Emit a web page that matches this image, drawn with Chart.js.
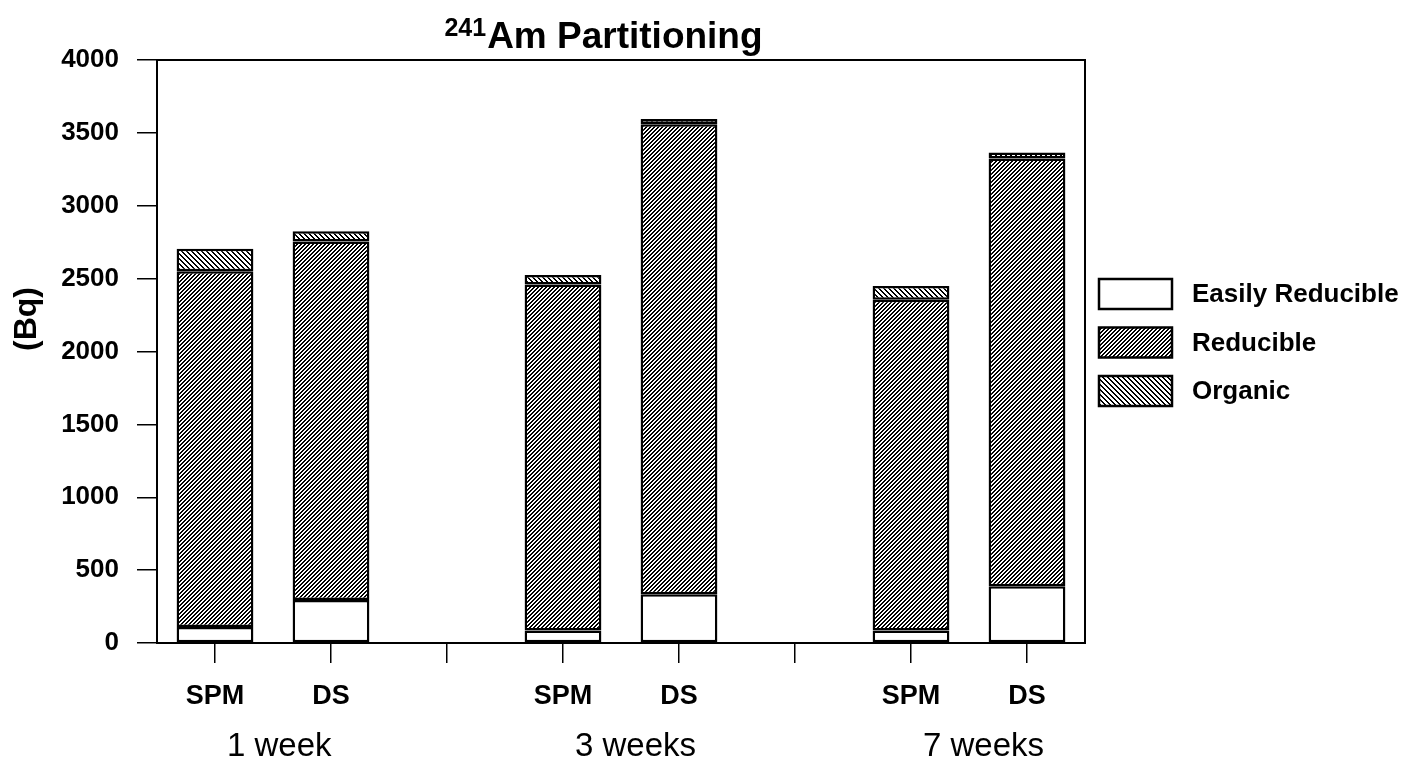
<!DOCTYPE html>
<html>
<head>
<meta charset="utf-8">
<title>241Am Partitioning</title>
<script src="https://cdn.jsdelivr.net/npm/chart.js@4/dist/chart.umd.min.js"></script>
<style>
  html, body { margin: 0; padding: 0; background: #fff; }
  #wrap { width: 1414px; height: 762px; position: relative; }
</style>
</head>
<body>
<div id="wrap"><canvas id="c" width="1414" height="762"></canvas></div>
<script>
// Fractions per sample (Bq); empty slots separate the sampling times
const categories = ['SPM', 'DS', '', 'SPM', 'DS', '', 'SPM', 'DS'];
const groupLabels = ['1 week', '3 weeks', '7 weeks'];
const groupStartIndex = [0, 3, 6];
const easilyReducible = [110, 295, null, 85, 335, null, 85, 390];
const reducible = [2440, 2460, null, 2375, 3225, null, 2270, 2935];
const organic = [155, 70, null, 65, 35, null, 95, 40];
const seriesNames = ['Easily Reducible', 'Reducible', 'Organic'];
const yTickValues = [0, 500, 1000, 1500, 2000, 2500, 3000, 3500, 4000];

const FONT = 'Arial, "Liberation Sans", Helvetica, sans-serif';
const canvas = document.getElementById('c');
const ctx = canvas.getContext('2d');

// crisp pixel hatch: dir > 0 gives "/" lines, dir < 0 gives "\" lines
function hatch(period, thick, dir) {
  const t = document.createElement('canvas');
  t.width = period; t.height = period;
  const g = t.getContext('2d');
  const img = g.createImageData(period, period);
  for (let y = 0; y < period; y++) {
    for (let x = 0; x < period; x++) {
      const k = dir > 0 ? (x + y) % period : ((x - y) % period + period) % period;
      const v = k < thick ? 0 : 255;
      const p = (y * period + x) * 4;
      img.data[p] = v; img.data[p + 1] = v; img.data[p + 2] = v; img.data[p + 3] = 255;
    }
  }
  g.putImageData(img, 0, 0);
  return ctx.createPattern(t, 'repeat');
}

const fills = ['#ffffff', hatch(4, 2, 1), hatch(5, 2, -1)];

// plot frame, title, y title, group labels and legend
const decorations = {
  id: 'decorations',
  afterDraw(chart) {
    const c = chart.ctx;
    const a = chart.chartArea;
    c.save();
    c.strokeStyle = '#000';
    c.lineWidth = 2;
    c.strokeRect(a.left, a.top, a.right - a.left, a.bottom - a.top);

    // title with superscript mass number
    c.fillStyle = '#000';
    c.textBaseline = 'alphabetic';
    c.textAlign = 'left';
    const supFont = 'bold 25px ' + FONT;
    const mainFont = 'bold 37px ' + FONT;
    c.font = supFont;
    const wSup = c.measureText('241').width;
    c.font = mainFont;
    const wMain = c.measureText('Am Partitioning').width;
    const cx = (a.left + a.right) / 2 - 18;
    const x0 = cx - (wSup + wMain) / 2;
    c.font = supFont;
    c.fillText('241', x0, 36);
    c.font = mainFont;
    c.fillText('Am Partitioning', x0 + wSup + 1, 48);

    // y axis title
    c.save();
    c.translate(27, 319);
    c.rotate(-Math.PI / 2);
    c.textAlign = 'center';
    c.textBaseline = 'middle';
    c.font = 'bold 32px ' + FONT;
    c.fillText('(Bq)', 0, 0);
    c.restore();

    // sampling time labels under each pair
    const xs = chart.scales.x;
    c.font = '33px ' + FONT;
    c.textAlign = 'left';
    c.textBaseline = 'alphabetic';
    groupLabels.forEach((lab, i) => {
      c.fillText(lab, xs.getPixelForValue(groupStartIndex[i]) + 12, 756);
    });

    // legend
    const bx = a.right + 14, bw = 73, bh = 30, top0 = 279, step = 48.5;
    c.font = 'bold 26px ' + FONT;
    c.textBaseline = 'middle';
    chart.data.datasets.forEach((ds, i) => {
      const y = top0 + i * step;
      c.fillStyle = ds.backgroundColor;
      c.fillRect(bx, y, bw, bh);
      c.strokeStyle = '#000';
      c.lineWidth = 2.5;
      c.strokeRect(bx, y, bw, bh);
      c.fillStyle = '#000';
      c.fillText(ds.label, bx + bw + 20, y + bh / 2 + 1);
    });
    c.restore();
  }
};

new Chart(ctx, {
  type: 'bar',
  data: {
    labels: categories,
    datasets: [easilyReducible, reducible, organic].map((vals, i) => ({
      label: seriesNames[i],
      data: vals,
      backgroundColor: fills[i],
      borderColor: '#000',
      borderWidth: 2.5,
      borderSkipped: false,
      categoryPercentage: 1,
      barPercentage: 0.662
    }))
  },
  options: {
    responsive: false,
    animation: false,
    devicePixelRatio: 1,
    layout: { padding: { left: 0, right: 329, top: 60, bottom: 0 } },
    plugins: {
      legend: { display: false },
      title: { display: false },
      tooltip: { enabled: false }
    },
    scales: {
      x: {
        stacked: true,
        offset: true,
        afterFit(scale) { scale.height = 119; },
        grid: { drawOnChartArea: false, offset: false, tickLength: 20, color: '#000', lineWidth: 1.5 },
        border: { display: true, color: '#000', width: 2 },
        ticks: {
          autoSkip: false, maxRotation: 0, padding: 17, color: '#000',
          font: { family: FONT, size: 27, weight: 'bold' }
        }
      },
      y: {
        stacked: true,
        min: 0,
        max: 4000,
        afterFit(scale) { scale.width = 157; },
        afterBuildTicks(scale) { scale.ticks = yTickValues.map(v => ({ value: v })); },
        grid: { drawOnChartArea: false, tickLength: 20, color: '#000', lineWidth: 1.5 },
        border: { display: true, color: '#000', width: 2 },
        ticks: {
          padding: 18, color: '#000',
          font: { family: FONT, size: 26, weight: 'bold' },
          callback: v => String(v)
        }
      }
    }
  },
  plugins: [decorations]
});
</script>
</body>
</html>
